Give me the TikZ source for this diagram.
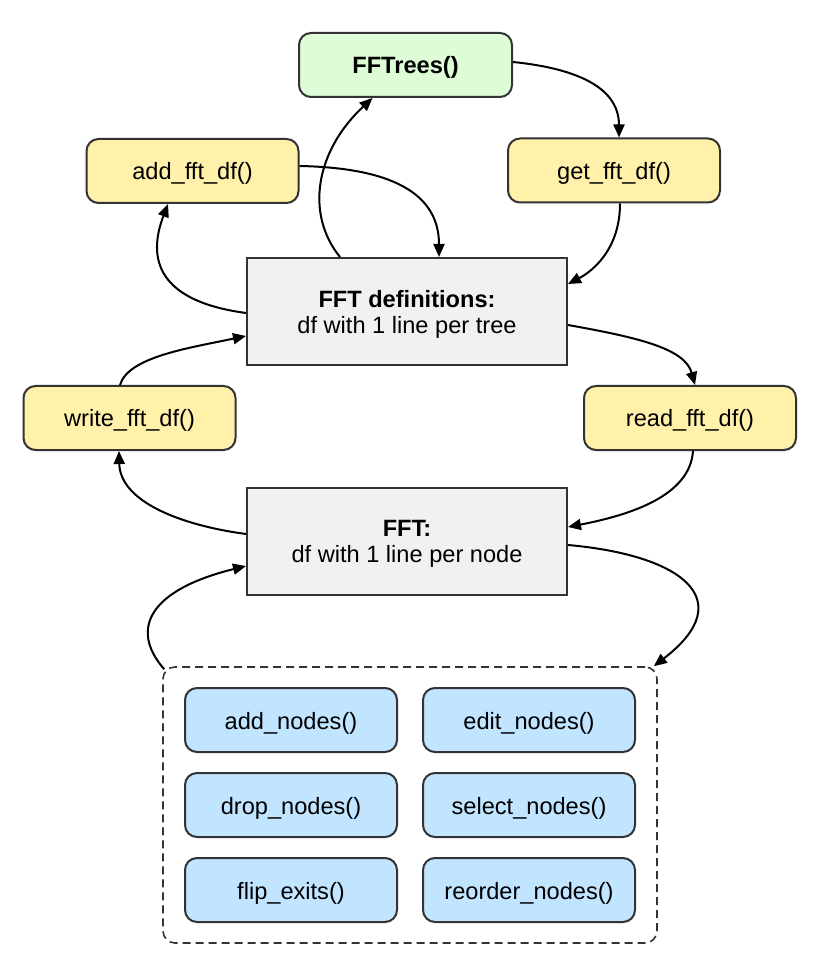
\documentclass[tikz,border=0pt]{standalone}
\usepackage{fontspec}
\setmainfont{Liberation Sans}
\usetikzlibrary{arrows.meta,calc}
\definecolor{bordc}{HTML}{333333}
\definecolor{greenf}{HTML}{DEFCD5}
\definecolor{yellowf}{HTML}{FFF0AA}
\definecolor{bluef}{HTML}{C1E4FF}
\definecolor{grayf}{HTML}{F1F1F1}
\tikzset{
  base/.style={draw=bordc, line width=1pt, inner sep=0pt,
    font=\fontsize{11.8}{13}\selectfont},
  fnbox/.style={base, rounded corners=6pt, minimum width=106pt, minimum height=32pt,
    text height=9pt, text depth=0pt},
  greenbox/.style={fnbox, fill=greenf, minimum width=106.5pt, font=\fontsize{11.8}{13}\selectfont\bfseries},
  yellowbox/.style={fnbox, fill=yellowf},
  bluebox/.style={fnbox, fill=bluef},
  databox/.style={base, fill=grayf, minimum width=160pt, minimum height=53.5pt,
    text height=9pt, text depth=13.2pt},
  container/.style={draw=bordc, line width=0.8pt, dash pattern=on 4pt off 2.5pt,
    rounded corners=6pt, minimum width=247pt, minimum height=138pt, inner sep=0pt},
  conn/.style={line width=1pt, -{Triangle[length=6.5pt,width=5.5pt]}}
}
\begin{document}
\begin{tikzpicture}[x=0.5pt,y=-0.5pt]
\useasboundingbox (0,0) rectangle (820,977);
% nodes
\node[greenbox] (fftrees) at (405.5,65) {FFTrees()};
\node[yellowbox] (add) at (192.5,171) {add\_fft\_df()};
\node[yellowbox] (get) at (614,170.5) {get\_fft\_df()};
\node[databox] (defs) at (407,311.5) {\begin{tabular}[t]{@{}c@{}}\textbf{FFT definitions:}\\df with 1 line per tree\end{tabular}};
\node[yellowbox] (write) at (129.5,418) {write\_fft\_df()};
\node[yellowbox] (read) at (690,418) {read\_fft\_df()};
\node[databox] (fft) at (407,541) {\begin{tabular}[t]{@{}c@{}}\textbf{FFT:}\\df with 1 line per node\end{tabular}};
\node[container] (box) at (410,805) {};
\node[bluebox] (n1) at (291,720) {add\_nodes()};
\node[bluebox] (n2) at (529,720) {edit\_nodes()};
\node[bluebox] (n3) at (291,805) {drop\_nodes()};
\node[bluebox] (n4) at (529,805) {select\_nodes()};
\node[bluebox] (n5) at (291,890) {flip\_exits()};
\node[bluebox] (n6) at (529,890) {reorder\_nodes()};
% connectors
\draw[conn] ($(defs.north)+(-67,0)$) .. controls +(-35,-43) and +(-57,53) .. ($(fftrees.south)+(-33,0)$);
\draw[conn] ($(fftrees.east)+(0,-3)$) .. controls +(78,8) and +(0,-43) .. ($(get.north)+(5,0)$);
\draw[conn] ($(get.south)+(6,0)$) .. controls +(0,47) and +(23,-12) .. ($(defs.east)+(0,-27.5)$);
\draw[conn] ($(add.east)+(0,-5)$) .. controls +(102,2) and +(0,-58) .. ($(defs.north)+(32,0)$);
\draw[conn] ($(defs.west)+(0,1.5)$) .. controls +(-97,-13) and +(-18,47) .. ($(add.south)+(-24.5,0)$);
\draw[conn] ($(write.north)+(-9.5,0)$) .. controls +(8,-28) and +(-57,12) .. ($(defs.west)+(0,24.5)$);
\draw[conn] ($(defs.east)+(0,13.5)$) .. controls +(73,13) and +(-10,-36) .. ($(read.north)+(5,0)$);
\draw[conn] ($(read.south)+(3,0)$) .. controls +(-3,45) and +(62,-12) .. ($(fft.east)+(0,-14)$);
\draw[conn] ($(fft.west)+(0,-7)$) .. controls +(-67,-9) and +(1,50) .. ($(write.south)+(-10.5,0)$);
\draw[conn] ($(box.north west)+(2,3)$) .. controls +(-35,-40) and +(-97,24) .. ($(fft.west)+(0,25)$);
\draw[conn] ($(fft.east)+(0,4)$) .. controls +(113,10) and +(87,-67) .. ($(box.north east)+(-4,0)$);
\end{tikzpicture}
\end{document}
